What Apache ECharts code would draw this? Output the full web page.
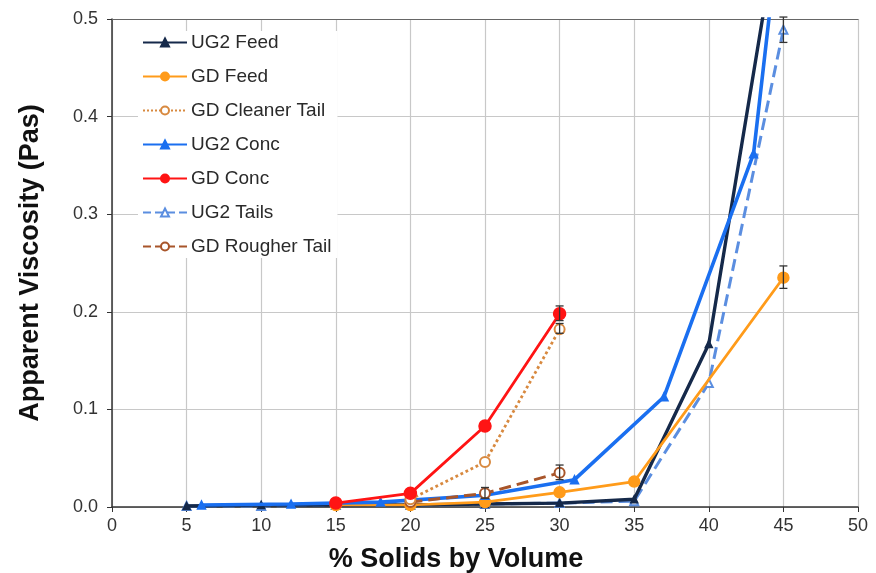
<!DOCTYPE html>
<html>
<head>
<meta charset="utf-8">
<script src="https://cdn.jsdelivr.net/npm/echarts@6/dist/echarts.min.js"></script>
<style>
html,body{margin:0;padding:0;background:#fff;}
#chart{width:876px;height:573px;}
</style>
</head>
<body>
<div id="chart"></div>
<script>
// ---- Data (x = % solids by volume, y = apparent viscosity in Pa.s) ----
const seriesNames = ['UG2 Feed','GD Feed','GD Cleaner Tail','UG2 Conc','GD Conc','UG2 Tails','GD Rougher Tail'];

const ug2FeedX   = [5, 10, 15, 20, 25, 30, 35, 40, 45];
const ug2FeedY   = [0.001, 0.002, 0.002, 0.002, 0.003, 0.004, 0.008, 0.167, 0.63];

const gdFeedX    = [15, 20, 25, 30, 35, 45];
const gdFeedY    = [0.002, 0.002, 0.005, 0.015, 0.026, 0.235];

const gdCleanerX = [20, 25, 30];
const gdCleanerY = [0.008, 0.046, 0.182];

const ug2ConcX   = [6, 12, 18, 25, 31, 37, 43, 45];
const ug2ConcY   = [0.002, 0.003, 0.005, 0.012, 0.028, 0.113, 0.362, 0.63];

const gdConcX    = [15, 20, 25, 30];
const gdConcY    = [0.004, 0.014, 0.083, 0.198];

const ug2TailsX  = [5, 10, 15, 20, 25, 30, 35, 40, 45];
const ug2TailsY  = [0.001, 0.001, 0.002, 0.002, 0.003, 0.004, 0.006, 0.127, 0.489];

const gdRougherX = [20, 25, 30];
const gdRougherY = [0.005, 0.014, 0.035];

// error bars: x, low, high
const errX    = [45, 30, 30, 30, 25, 45];
const errLow  = [0.224, 0.191, 0.178, 0.028, 0.009, 0.476];
const errHigh = [0.247, 0.206, 0.188, 0.043, 0.020, 0.502];

const xTicks = {min: 0, max: 50, step: 5};
const yTicks = {min: 0, max: 0.5, step: 0.1};

function pairs(xs, ys){ return xs.map((x,i)=>[x, ys[i]]); }

const FONT = 'Liberation Sans, Arial, sans-serif';

const styles = {
  'UG2 Feed':        {color:'#15294a', type:'solid',  width:3.4, symbol:'triangle',      size:7},
  'GD Feed':         {color:'#ff9b1a', type:'solid',  width:2.6, symbol:'circle',        size:11},
  'GD Cleaner Tail': {color:'#d8893f', type:'dotted', width:2.8, symbol:'emptyCircle',   size:10},
  'UG2 Conc':        {color:'#1a6ff0', type:'solid',  width:3.6, symbol:'triangle',      size:8},
  'GD Conc':         {color:'#ff1414', type:'solid',  width:2.8, symbol:'circle',        size:12},
  'UG2 Tails':       {color:'#5b8ee0', type:'dashed', width:3.0, symbol:'emptyTriangle', size:8},
  'GD Rougher Tail': {color:'#a8552a', type:'dashed', width:3.0, symbol:'emptyCircle',   size:10}
};

const dataMap = {
  'UG2 Feed': pairs(ug2FeedX, ug2FeedY),
  'GD Feed': pairs(gdFeedX, gdFeedY),
  'GD Cleaner Tail': pairs(gdCleanerX, gdCleanerY),
  'UG2 Conc': pairs(ug2ConcX, ug2ConcY),
  'GD Conc': pairs(gdConcX, gdConcY),
  'UG2 Tails': pairs(ug2TailsX, ug2TailsY),
  'GD Rougher Tail': pairs(gdRougherX, gdRougherY)
};

const zOrder = {'UG2 Tails':2,'UG2 Feed':3,'GD Feed':4,'UG2 Conc':5,'GD Rougher Tail':6,'GD Cleaner Tail':7,'GD Conc':8};

const series = seriesNames.map(name => {
  const s = styles[name];
  return {
    name: name,
    type: 'line',
    data: dataMap[name],
    symbol: s.symbol,
    symbolSize: s.size,
    z: zOrder[name],
    clip: true,
    lineStyle: {color: s.color, width: s.width, type: s.type},
    itemStyle: {color: s.color, borderColor: s.color, borderWidth: 1.5},
    emphasis: {disabled: true},
    animation: false
  };
});

series.push({
  type: 'custom',
  name: 'errors',
  z: 9,
  data: errX.map((x,i)=>[x, errLow[i], errHigh[i]]),
  renderItem: function(params, api){
    const x = api.value(0);
    const lo = api.coord([x, api.value(1)]);
    const hi = api.coord([x, api.value(2)]);
    const w = 4;
    const st = {stroke:'#333', lineWidth:1.3};
    return {type:'group', children:[
      {type:'line', shape:{x1:lo[0], y1:lo[1], x2:hi[0], y2:hi[1]}, style:st},
      {type:'line', shape:{x1:lo[0]-w, y1:lo[1], x2:lo[0]+w, y2:lo[1]}, style:st},
      {type:'line', shape:{x1:hi[0]-w, y1:hi[1], x2:hi[0]+w, y2:hi[1]}, style:st}
    ]};
  },
  animation: false,
  silent: true
});

const chart = echarts.init(document.getElementById('chart'), null, {renderer:'canvas'});
chart.setOption({
  backgroundColor: '#ffffff',
  animation: false,
  grid: {left: 112, right: 18, top: 19, bottom: 66, containLabel: false, outerBoundsMode: 'none'},
  legend: {
    data: seriesNames,
    orient: 'vertical',
    left: 138,
    top: 31,
    itemWidth: 44,
    itemHeight: 10,
    itemGap: 15,
    padding: [2, 6, 2, 4],
    textStyle: {fontFamily: FONT, fontSize: 19, color: '#2a2a2a', padding: [0,0,0,-1]},
    backgroundColor: '#ffffff',
    selectedMode: false
  },
  xAxis: [{
    type: 'value',
    min: xTicks.min, max: xTicks.max, interval: xTicks.step,
    name: '% Solids by Volume',
    nameLocation: 'middle',
    nameGap: 39,
    nameTextStyle: {fontFamily: FONT, fontSize: 27, fontWeight: 'bold', color: '#111', padding: [0, 58, 0, 0]},
    axisLine: {lineStyle: {color: '#333', width: 1.5}},
    axisTick: {show: true, length: 5, lineStyle: {color: '#333'}},
    axisLabel: {fontFamily: FONT, fontSize: 18, color: '#333', margin: 10},
    splitLine: {show: true, lineStyle: {color: '#c8c8c8', width: 1.2}}
  }, {
    type: 'value', position: 'top',
    min: xTicks.min, max: xTicks.max, interval: xTicks.step,
    axisLine: {show: true, lineStyle: {color: '#666', width: 1.2}},
    axisTick: {show: false}, axisLabel: {show: false}, splitLine: {show: false}
  }],
  yAxis: {
    type: 'value',
    min: yTicks.min, max: yTicks.max, interval: yTicks.step,
    name: 'Apparent Viscosity (Pas)',
    nameLocation: 'middle',
    nameGap: 68,
    nameTextStyle: {fontFamily: FONT, fontSize: 27, fontWeight: 'bold', color: '#111'},
    axisLine: {show: true, lineStyle: {color: '#333', width: 1.5}},
    axisTick: {show: true, length: 5, lineStyle: {color: '#333'}},
    axisLabel: {fontFamily: FONT, fontSize: 18, color: '#333', margin: 14,
      formatter: v => v.toFixed(1)},
    splitLine: {show: true, lineStyle: {color: '#c8c8c8', width: 1.2}}
  },
  series: series
});
</script>
</body>
</html>
